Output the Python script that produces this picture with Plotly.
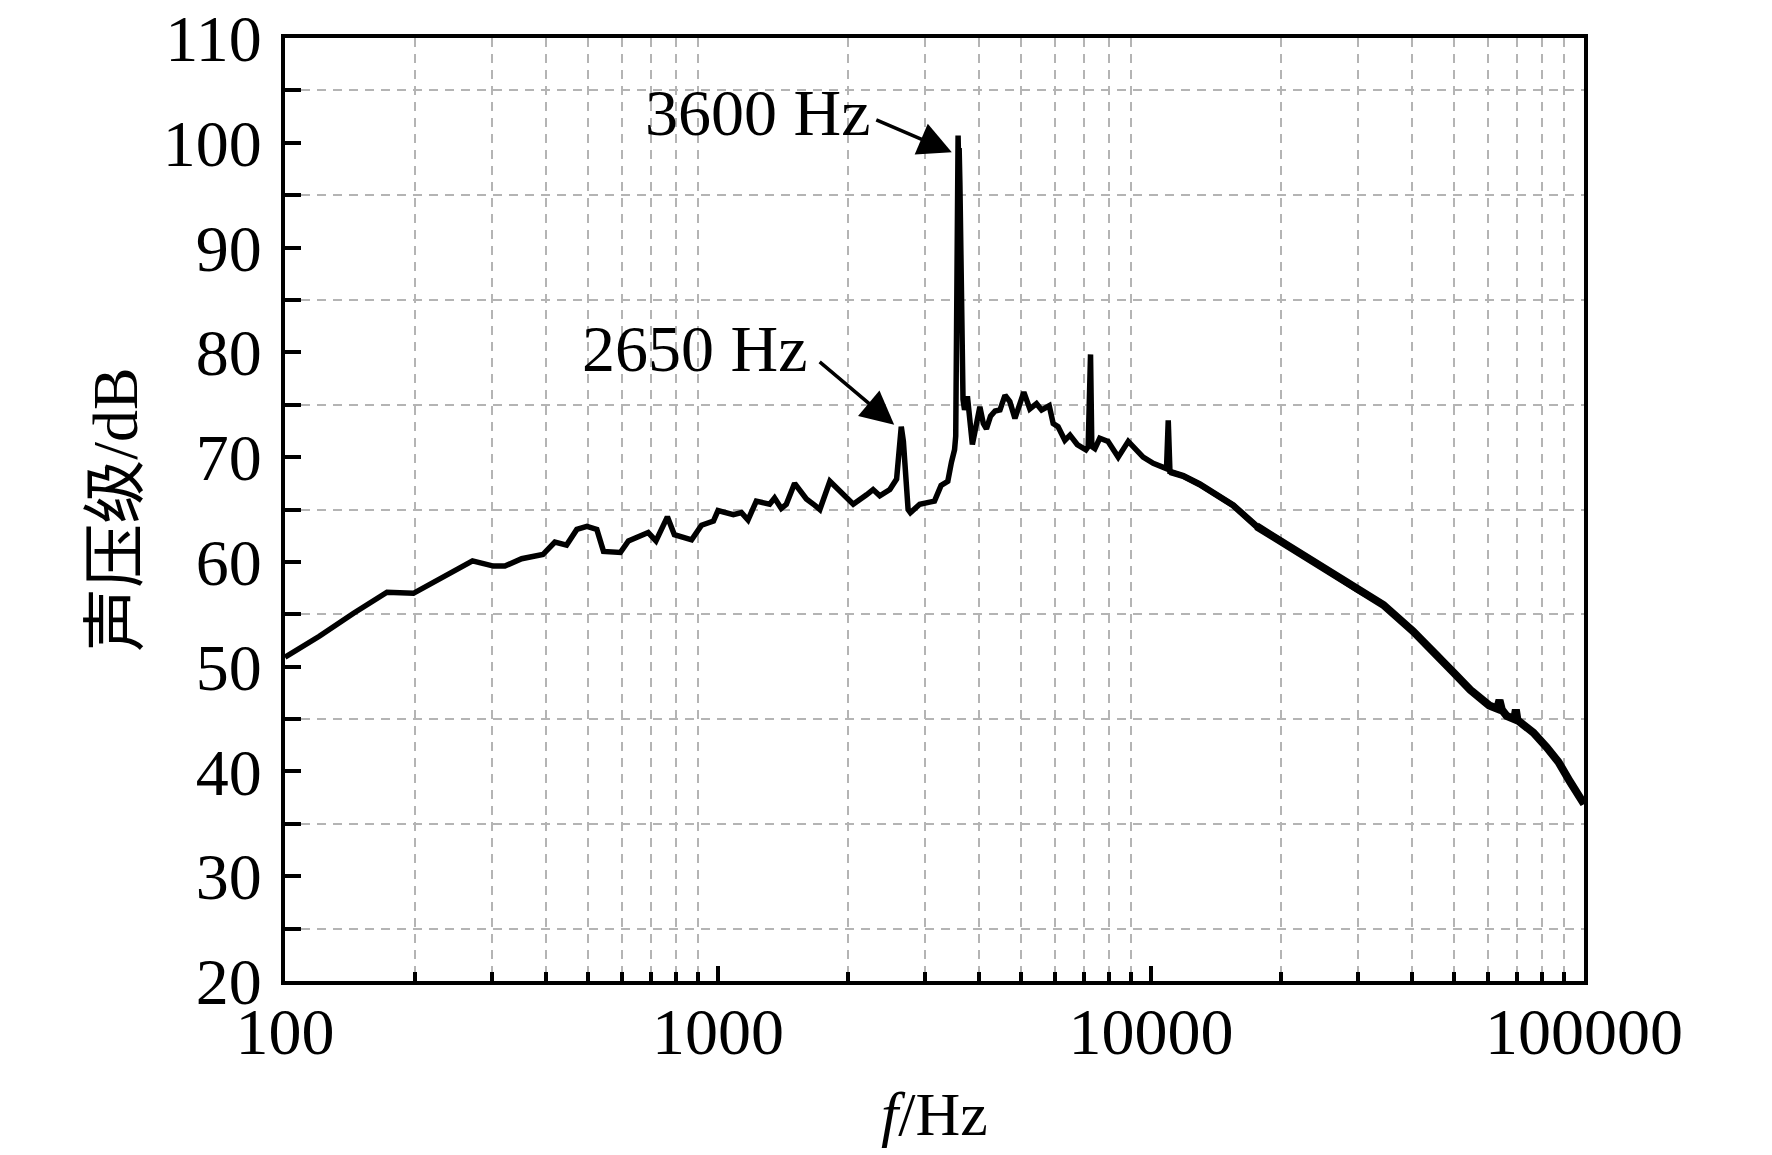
import math
import plotly.graph_objects as go

# frequency (Hz) and sound pressure level (dB)
freq = [
    100, 120, 144, 172, 198, 228, 271, 303, 322, 352, 394, 420, 447, 472, 498, 525,
    544, 595, 621, 690, 719, 764, 793, 869, 916, 976, 1000, 1085, 1133, 1173, 1226,
    1316, 1351, 1400, 1438, 1503, 1600, 1674, 1719, 1813, 1946, 2053, 2203, 2281,
    2364, 2494, 2585, 2620, 2650, 2680, 2700, 2748, 2782, 2923, 3082, 3162, 3275,
    3394, 3460, 3518, 3540, 3555, 3562, 3572, 3585, 3595, 3605, 3620, 3640, 3660,
    3680, 3710, 3767, 3868, 3950, 4025, 4100, 4168, 4260, 4365, 4480, 4600, 4720, 4850,
    5085, 5250, 5440, 5590, 5820, 5945, 6100, 6325, 6500, 6755, 7075, 7160, 7250,
    7300, 7420, 7615, 7960, 8400, 8860, 9260, 9590, 10120, 10670, 10860, 10960,
    11060, 11870, 12960, 14170, 15480, 17530, 20100, 23750, 30000, 34400, 40250,
    45750, 50100, 54600, 60400, 63000, 63800, 64600, 66300, 69000, 69600, 70200,
    71100, 76400, 82000, 87300, 92900, 100000,
]
spl = [
    50.9, 52.9, 55.1, 57.1, 57.0, 58.4, 60.1, 59.6, 59.6, 60.3, 60.7, 61.9, 61.6, 63.1,
    63.4, 63.1, 61.0, 60.9, 62.0, 62.8, 62.0, 64.3, 62.6, 62.1, 63.5, 63.9, 64.9, 64.5,
    64.7, 64.0, 65.8, 65.5, 66.1, 65.1, 65.5, 67.5, 66.0, 65.4, 65.0, 67.7, 66.4, 65.5,
    66.4, 66.9, 66.3, 66.9, 67.9, 70.5, 72.9, 71.5, 68.8, 65.0, 64.7, 65.5, 65.7, 65.8,
    67.3, 67.7, 69.5, 70.7, 72.0, 80.0, 95.0, 99.0, 100.7, 98.0, 99.5, 96.0, 88.0, 78.0,
    75.5, 74.5, 75.8, 71.2, 73.5, 74.8, 73.2, 72.7, 73.9, 74.4, 74.5, 75.9, 75.3, 73.7,
    76.2, 74.6, 75.1, 74.5, 74.9, 73.2, 72.9, 71.6, 72.1, 71.2, 70.7, 71.0, 79.8,
    71.0, 70.8, 71.8, 71.5, 70.0, 71.5, 70.7, 70.0, 69.4, 69.1, 68.9, 73.5,
    68.6, 68.2, 67.4, 66.4, 65.4, 63.4, 61.9, 60.0, 57.3, 55.9, 53.4,
    51.2, 49.4, 47.8, 46.3, 46.0, 46.8, 45.9, 45.3, 45.0, 45.9, 44.9,
    44.7, 43.7, 42.3, 40.9, 39.0, 36.9,
]

# peak annotations: label, arrow tip (Hz, dB), arrow tail offset in px, label centre (paper)
peak_labels = ["3600 Hz", "2650 Hz"]
peak_tips = [(3467, 99.1), (2552, 73.1)]
arrow_tails = [(-77, -33), (-76, -64)]
label_pos = [(0.364, 0.921), (0.3156, 0.671)]

x_major = [100, 1000, 10000, 100000]
x_minor = [m * d for d in (100, 1000, 10000) for m in range(2, 10)]

FONT = "Liberation Serif, Times New Roman, Noto Sans CJK SC, serif"
GRID = "#b4b4b4"

fig = go.Figure()
fig.add_trace(go.Scatter(
    x=freq, y=spl, mode="lines",
    line=dict(color="black", width=5.5),
    showlegend=False, hoverinfo="skip",
))
# the high-frequency part is a dense noisy band, so it is drawn heavier
mid = [i for i, f in enumerate(freq) if 11060 <= f <= 20100]
far = [i for i, f in enumerate(freq) if f >= 17530]
for idx, w in ((mid, 6.5), (far, 8)):
    fig.add_trace(go.Scatter(
        x=[freq[i] for i in idx], y=[spl[i] for i in idx], mode="lines",
        line=dict(color="black", width=w),
        showlegend=False, hoverinfo="skip",
    ))

for text, (tx, ty), (ax, ay), (px, py) in zip(peak_labels, peak_tips, arrow_tails, label_pos):
    fig.add_annotation(
        x=math.log10(tx), y=ty, xref="x", yref="y",
        text="", showarrow=True, ax=ax, ay=ay,
        arrowhead=2, arrowsize=1.9, arrowwidth=3.5, arrowcolor="black",
    )
    fig.add_annotation(
        x=px, y=py, xref="paper", yref="paper",
        text=text, showarrow=False,
        font=dict(family=FONT, size=66, color="black"),
        xanchor="center", yanchor="middle",
    )

fig.update_xaxes(
    type="log", range=[2, 5], automargin=False,
    tickvals=x_major, ticktext=[str(v) for v in x_major],
    ticks="inside", ticklen=15, tickwidth=3.5, tickcolor="black",
    showline=True, linewidth=4, linecolor="black", mirror=True,
    showgrid=False, zeroline=False,
    minor=dict(tickvals=x_minor, ticks="inside", ticklen=9, tickwidth=3.5,
               tickcolor="black", showgrid=True, gridcolor=GRID,
               gridwidth=2.3, griddash="9px,7px"),
    tickfont=dict(family=FONT, size=66, color="black"),
    ticklabelstandoff=-10,
    title=dict(text="<i>f</i>/Hz", font=dict(family=FONT, size=62, color="black"),
               standoff=25),
)
fig.update_yaxes(
    range=[20, 110], tick0=20, dtick=10, automargin=False,
    ticks="inside", ticklen=16, tickwidth=3.5, tickcolor="black",
    showline=True, linewidth=4, linecolor="black", mirror=True,
    showgrid=False, zeroline=False,
    minor=dict(dtick=5, ticks="inside", ticklen=16, tickwidth=3.5,
               tickcolor="black", showgrid=True, gridcolor=GRID,
               gridwidth=2.3, griddash="9px,7px"),
    tickfont=dict(family=FONT, size=66, color="black"),
    ticklabelstandoff=6,
    title=dict(text="声压级/dB", font=dict(family=FONT, size=64, color="black"),
               standoff=5),
)

fig.update_layout(
    width=1772, height=1155,
    margin=dict(l=285, r=188, t=38, b=174),
    plot_bgcolor="white", paper_bgcolor="white",
)

# drop the browser's default 8 px body margin so the figure fills the window
fig.write_html(
    "out.html",
    config={"displayModeBar": False},
    post_script="document.body.style.margin = '0px';",
)
